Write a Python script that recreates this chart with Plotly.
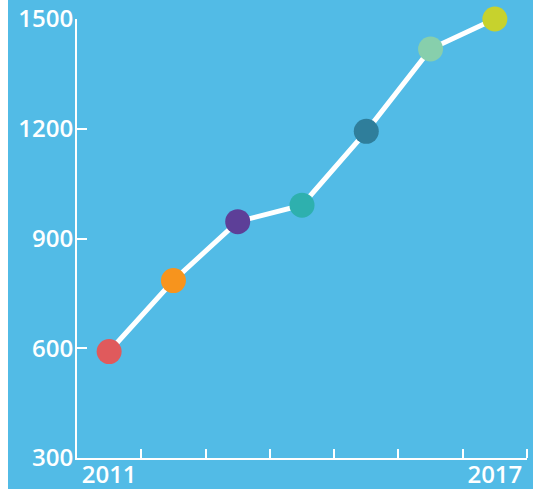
import plotly.graph_objects as go

years = [2011, 2012, 2013, 2014, 2015, 2016, 2017]
values = [591, 785, 946, 991, 1193, 1418, 1500]
colors = ["#e05a5c", "#f7941d", "#5d3f98", "#2eb0ae", "#2f7e9b", "#87cfac", "#c7d22d"]
y_ticks = [300, 600, 900, 1200, 1500]
x_labels = {2011: "2011", 2017: "2017"}
bounds = [2011.5, 2012.5, 2013.5, 2014.5, 2015.5, 2016.5, 2017.5]

BG = "#52bbe6"
font = dict(family="Open Sans", size=24, color="white", weight=600)

fig = go.Figure()
fig.add_trace(go.Scatter(
    x=years, y=values, mode="lines+markers",
    line=dict(color="white", width=5),
    marker=dict(size=25, color=colors, line=dict(width=0)),
    cliponaxis=False, hoverinfo="skip",
))

fig.update_layout(
    width=525, height=489,
    margin=dict(l=69, r=6, t=19, b=31, autoexpand=False),
    paper_bgcolor=BG, plot_bgcolor=BG,
    showlegend=False,
    xaxis=dict(
        range=[2010.5, 2017.5], showgrid=False, zeroline=False,
        showline=True, linecolor="white", linewidth=2,
        tickvals=list(x_labels.keys()), ticktext=list(x_labels.values()),
        ticks="", tickfont=font, automargin=False, ticklabelstandoff=-6,
        minor=dict(tickvals=bounds, ticks="inside", ticklen=9,
                   tickcolor="white", tickwidth=2, showgrid=False),
        fixedrange=True,
    ),
    yaxis=dict(
        range=[300, 1500], showgrid=False, zeroline=False,
        showline=True, linecolor="white", linewidth=2,
        tickvals=y_ticks, ticks="inside", ticklen=10,
        tickcolor="white", tickwidth=2, tickfont=font, automargin=False,
        ticklabelstandoff=-3,
        fixedrange=True,
    ),
)

fig.write_html("out.html", post_script="document.body.style.margin='0 0 0 8px';")
